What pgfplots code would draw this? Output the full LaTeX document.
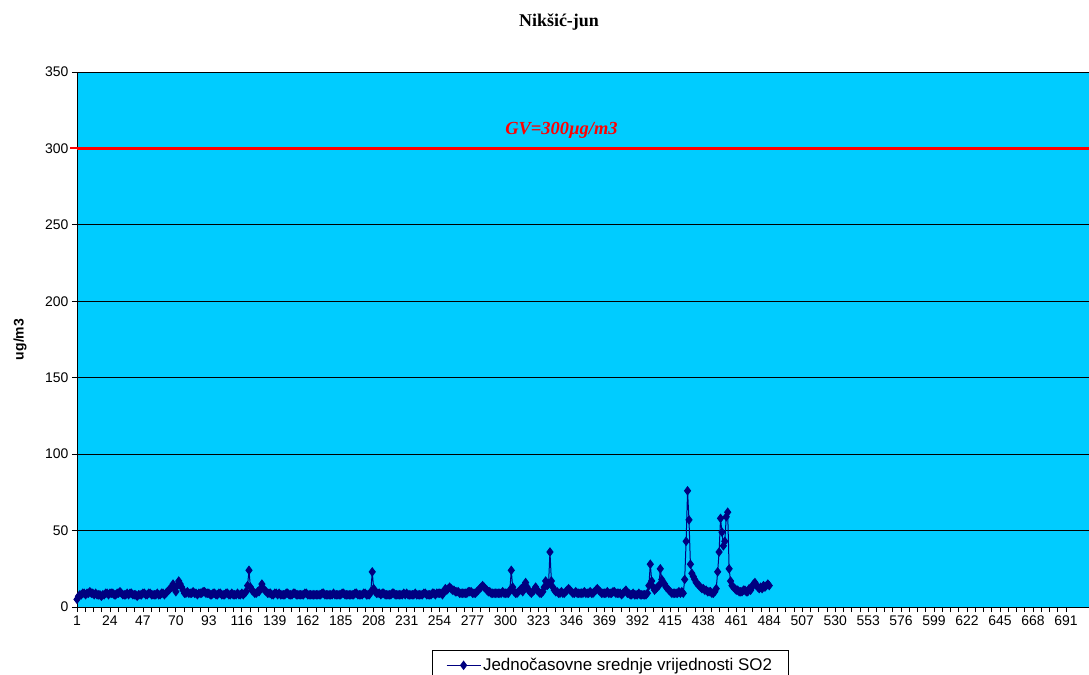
\documentclass[border=0pt]{standalone}
\usepackage{pgfplots}
\pgfplotsset{compat=1.18}
\usepackage{pgfplotstable}
\usepackage{fontspec}
\setmainfont{Liberation Sans}
\newfontfamily\timesfont{Liberation Serif}
\definecolor{plotbg}{HTML}{00CCFF}
\definecolor{navy}{HTML}{000080}

\pgfplotstableread[row sep=\\]{
y\\
5\\7\\8\\8\\9\\9\\8\\9\\9\\10\\9\\9\\8\\9\\8\\8\\8\\7\\8\\8\\9\\9\\8\\9\\
9\\9\\8\\8\\9\\9\\10\\9\\8\\8\\8\\9\\8\\9\\9\\8\\8\\8\\7\\8\\8\\8\\9\\9\\
8\\8\\9\\9\\8\\8\\8\\8\\9\\8\\8\\9\\9\\8\\9\\10\\11\\12\\13\\15\\12\\10\\14\\17\\
15\\13\\11\\9\\9\\10\\9\\9\\9\\10\\9\\9\\8\\9\\9\\9\\10\\10\\9\\9\\9\\8\\8\\9\\
9\\8\\8\\9\\9\\8\\8\\8\\9\\9\\8\\8\\9\\8\\8\\8\\9\\8\\8\\9\\8\\9\\10\\14\\
24\\13\\11\\10\\9\\9\\10\\10\\12\\15\\12\\11\\10\\9\\9\\9\\8\\8\\9\\9\\8\\9\\8\\8\\
8\\8\\9\\9\\8\\8\\8\\9\\9\\8\\8\\8\\8\\8\\8\\9\\9\\8\\8\\8\\8\\8\\8\\8\\
8\\8\\8\\9\\9\\8\\8\\8\\8\\8\\8\\9\\8\\8\\8\\8\\8\\9\\9\\8\\8\\8\\8\\8\\
8\\8\\9\\9\\8\\8\\8\\8\\9\\9\\8\\8\\8\\10\\23\\12\\10\\9\\9\\9\\8\\9\\9\\8\\
8\\8\\8\\8\\9\\9\\8\\8\\8\\8\\8\\8\\9\\8\\9\\8\\8\\8\\8\\8\\9\\8\\8\\8\\
8\\8\\9\\9\\8\\8\\8\\8\\9\\9\\8\\9\\9\\9\\9\\8\\10\\12\\11\\12\\13\\12\\11\\11\\
10\\10\\10\\9\\9\\9\\9\\9\\9\\10\\10\\10\\9\\9\\9\\10\\11\\12\\13\\14\\13\\12\\11\\10\\
10\\9\\9\\9\\9\\9\\9\\9\\9\\10\\9\\9\\9\\9\\11\\24\\13\\10\\9\\9\\10\\11\\12\\10\\
14\\16\\13\\11\\10\\9\\10\\11\\13\\11\\10\\9\\9\\10\\13\\17\\14\\15\\36\\17\\13\\11\\10\\10\\
9\\9\\10\\9\\9\\10\\11\\12\\11\\10\\9\\9\\10\\9\\9\\9\\9\\9\\10\\9\\9\\9\\10\\9\\
9\\10\\11\\12\\11\\10\\9\\9\\9\\9\\10\\9\\9\\9\\10\\10\\9\\9\\9\\9\\8\\9\\10\\11\\
9\\9\\8\\8\\9\\8\\8\\8\\9\\8\\8\\8\\8\\8\\9\\14\\28\\17\\13\\11\\12\\13\\14\\25\\
18\\16\\15\\13\\12\\11\\10\\9\\9\\9\\9\\9\\10\\9\\10\\9\\18\\43\\76\\57\\28\\22\\20\\18\\
16\\15\\14\\13\\12\\12\\11\\11\\10\\10\\10\\9\\9\\10\\12\\23\\36\\58\\49\\40\\43\\59\\62\\25\\
17\\14\\13\\12\\11\\11\\10\\10\\10\\11\\11\\10\\10\\12\\11\\13\\15\\16\\14\\13\\12\\13\\12\\14\\
13\\14\\15\\14\\
}\sodata

\begin{document}
\begin{tikzpicture}
\node[anchor=base, font=\timesfont\bfseries\fontsize{18}{20}\selectfont] at (559bp,648bp) {Nikšić-jun};
\begin{axis}[
  at={(77bp,68bp)}, anchor=south west,
  width=1030.5bp, height=535bp, scale only axis,
  xmin=1, xmax=720, ymin=0, ymax=350,
  axis background/.style={fill=plotbg},
  axis line style={black, line width=0.8bp},
  xtick={1,24,...,691}, minor x tick num=3,
  extra x ticks={714}, extra x tick labels={},
  ytick={0,50,...,350},
  ymajorgrids, grid style={black, line width=0.8bp},
  tick align=outside, xtick pos=lower, ytick pos=left,
  major tick length=5bp, minor tick length=5bp,
  tick style={black, line width=0.8bp},
  /pgf/number format/assume math mode=true,
  /pgf/number format/set thousands separator={},
  tick label style={font=\fontsize{14}{16}\selectfont},
  ylabel={\bfseries ug/m3},
  every axis y label/.style={at={(axis description cs:-0.0553,0.5)}, rotate=90, anchor=center, font=\fontsize{14}{16}\selectfont},
  legend style={at={(0.3442,-0.0804)}, anchor=north west, draw=black, line width=0.8bp,
     font=\fontsize{17}{20}\selectfont, inner xsep=14bp, inner ysep=6bp},
  legend image code/.code={\draw[#1, mark repeat=2, mark phase=2] plot coordinates {(12bp,0bp)(29bp,0bp)(46bp,0bp)};},
]
\addplot[red, line width=3bp, mark=none, forget plot] coordinates {(1,300) (720,300)};
\addplot[navy, line width=1bp, mark=diamond*, mark size=4bp, mark options={fill=navy, draw=navy}]
  table[x expr=\coordindex+1, y=y] {\sodata};
\addlegendentry{Jednočasovne srednje vrijednosti SO2}
\node[anchor=base, text=red, font=\timesfont\bfseries\itshape\fontsize{18.5}{21}\selectfont] at (axis cs:339,308.8) {GV=300µg/m3};
\coordinate (redtick) at (axis cs:1,300);
\end{axis}
\draw[red, line width=2bp] (redtick) -- ++(-7bp,0);
\pgfresetboundingbox
\useasboundingbox (0,0) rectangle (1089bp,675bp);
\end{tikzpicture}
\end{document}
